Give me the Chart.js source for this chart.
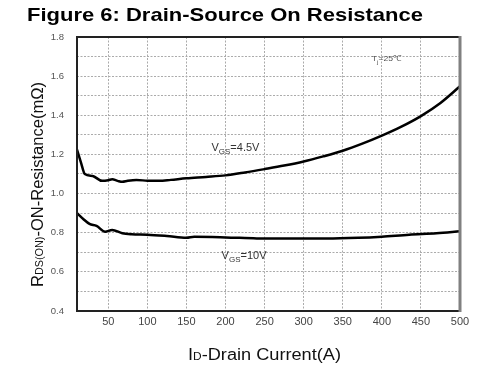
<!DOCTYPE html>
<html>
<head>
<meta charset="utf-8">
<script src="https://cdn.jsdelivr.net/npm/chart.js@4"></script>
<style>
  html, body { margin: 0; padding: 0; background: #fff; }
  #wrap { width: 500px; height: 375px; }
</style>
</head>
<body>
<div id="wrap"><canvas id="rdsChart" width="500" height="375"></canvas></div>
<script>
// drain current (A) vs Rds(on) (mOhm)
const current45 = [10, 15, 20, 30, 42, 50, 55, 62, 68, 75, 86, 100, 115, 130, 150, 175, 200, 225, 250, 275, 300, 325, 350, 375, 400, 425, 450, 475, 500];
const rds45 = [1.225, 1.16, 1.10, 1.09, 1.065, 1.068, 1.073, 1.065, 1.06, 1.065, 1.069, 1.066, 1.065, 1.07, 1.078, 1.085, 1.093, 1.108, 1.125, 1.143, 1.164, 1.19, 1.219, 1.255, 1.296, 1.342, 1.396, 1.463, 1.548];

const current10 = [10, 18, 26, 35, 46, 55, 68, 80, 100, 125, 150, 160, 200, 240, 280, 330, 370, 400, 435, 470, 500];
const rds10 = [0.90, 0.87, 0.845, 0.835, 0.805, 0.814, 0.797, 0.792, 0.79, 0.783, 0.774, 0.779, 0.776, 0.771, 0.77, 0.77, 0.774, 0.78, 0.79, 0.797, 0.807];

const xTicks = [50, 100, 150, 200, 250, 300, 350, 400, 450, 500];
const yTicks = [0.4, 0.5, 0.6, 0.7, 0.8, 0.9, 1.0, 1.1, 1.2, 1.3, 1.4, 1.5, 1.6, 1.7, 1.8];

const FONT = "'Liberation Sans', Arial, sans-serif";

function f(size, bold) {
    return (bold ? 'bold ' : '') + size + 'px ' + FONT;
}

function runsWidth(ctx, runs) {
    let w = 0;
    runs.forEach(r => { ctx.font = r.font; w += ctx.measureText(r.text).width; });
    return w;
}

// draws text pieces one after another, squeezed/stretched to a given width
function drawRuns(ctx, runs, target) {
    const w = runsWidth(ctx, runs);
    const sx = target ? target / w : 1;
    ctx.save();
    ctx.scale(sx, 1);
    let cx = 0;
    runs.forEach(r => {
        ctx.font = r.font;
        ctx.fillText(r.text, cx, r.dy || 0);
        cx += ctx.measureText(r.text).width;
    });
    ctx.restore();
}

const overlay = {
    id: 'overlay',
    afterDraw(chart) {
        const ctx = chart.ctx;
        const a = chart.chartArea;
        const xs = chart.scales.x;
        const ys = chart.scales.y;

        // frame
        ctx.save();
        ctx.lineWidth = 2;
        ctx.strokeStyle = '#222';
        ctx.beginPath();
        ctx.moveTo(a.right, a.top);
        ctx.lineTo(a.left, a.top);
        ctx.lineTo(a.left, a.bottom);
        ctx.lineTo(a.right, a.bottom);
        ctx.stroke();
        ctx.lineWidth = 3;
        ctx.strokeStyle = '#808080';
        ctx.beginPath();
        ctx.moveTo(a.right, a.top - 1);
        ctx.lineTo(a.right, a.bottom + 1);
        ctx.stroke();
        ctx.restore();

        ctx.save();
        ctx.textBaseline = 'alphabetic';
        ctx.textAlign = 'left';

        // title
        ctx.fillStyle = '#000';
        ctx.save();
        ctx.translate(27, 21);
        drawRuns(ctx, [{ text: 'Figure 6: Drain-Source On Resistance', font: f(19, true) }], 396);
        ctx.restore();

        // x title
        ctx.fillStyle = '#111';
        ctx.save();
        ctx.translate(188, 360);
        drawRuns(ctx, [
            { text: 'I', font: f(16) },
            { text: 'D', font: f(10.5) },
            { text: '-Drain Current(A)', font: f(16) }
        ], 153);
        ctx.restore();

        // y title
        ctx.save();
        ctx.translate(43, 184.5);
        ctx.rotate(-Math.PI / 2);
        ctx.translate(-102.5, 0);
        drawRuns(ctx, [
            { text: 'R', font: f(16) },
            { text: 'DS(ON)', font: f(10.5) },
            { text: '-ON-Resistance(m\u03A9)', font: f(16) }
        ], 205);
        ctx.restore();

        // curve labels
        ctx.fillStyle = '#333';
        ctx.save();
        ctx.translate(xs.getPixelForValue(182), ys.getPixelForValue(1.22));
        drawRuns(ctx, [
            { text: 'V', font: f(11) },
            { text: 'GS', font: f(8), dy: 3 },
            { text: '=4.5V', font: f(11) }
        ]);
        ctx.restore();

        ctx.save();
        ctx.translate(xs.getPixelForValue(195), ys.getPixelForValue(0.668));
        drawRuns(ctx, [
            { text: 'V', font: f(11) },
            { text: 'GS', font: f(8), dy: 3 },
            { text: '=10V', font: f(11) }
        ]);
        ctx.restore();

        ctx.fillStyle = '#555';
        ctx.save();
        ctx.translate(xs.getPixelForValue(387), ys.getPixelForValue(1.675));
        drawRuns(ctx, [
            { text: 'T', font: f(8) },
            { text: 'j', font: f(6), dy: 3 },
            { text: '=25\u2103', font: f(8) }
        ], 30);
        ctx.restore();

        ctx.restore();
    }
};

const ctx = document.getElementById('rdsChart').getContext('2d');

new Chart(ctx, {
    type: 'line',
    data: {
        datasets: [{
            label: 'VGS=4.5V',
            data: current45.map((x, i) => ({ x: x, y: rds45[i] })),
            borderColor: '#000',
            borderWidth: 2.5,
            pointRadius: 0,
            cubicInterpolationMode: 'monotone',
            fill: false
        }, {
            label: 'VGS=10V',
            data: current10.map((x, i) => ({ x: x, y: rds10[i] })),
            borderColor: '#000',
            borderWidth: 2.5,
            pointRadius: 0,
            cubicInterpolationMode: 'monotone',
            fill: false
        }]
    },
    options: {
        responsive: false,
        animation: false,
        layout: {
            padding: { left: 0, top: 37, right: 40, bottom: 0 }
        },
        plugins: {
            legend: { display: false },
            title: { display: false },
            tooltip: { enabled: false }
        },
        scales: {
            x: {
                type: 'linear',
                min: 10,
                max: 500,
                afterBuildTicks: axis => { axis.ticks = xTicks.map(v => ({ value: v })); },
                afterFit: axis => { axis.height = 64; },
                grid: { color: '#ababab', lineWidth: 1, drawTicks: false },
                border: { display: false, dash: [2, 1.5] },
                ticks: {
                    color: '#444',
                    padding: 4,
                    maxRotation: 0,
                    font: { family: FONT, size: 11 }
                }
            },
            y: {
                min: 0.4,
                max: 1.8,
                afterBuildTicks: axis => { axis.ticks = yTicks.map(v => ({ value: v })); },
                afterFit: axis => { axis.width = 77; },
                grid: { color: '#ababab', lineWidth: 1, drawTicks: false },
                border: { display: false, dash: [2, 1.5] },
                ticks: {
                    color: '#555',
                    padding: 13,
                    font: { family: FONT, size: 9.5 },
                    callback: v => (Math.round(v * 10) % 2 === 0 ? v.toFixed(1) : '')
                }
            }
        }
    },
    plugins: [overlay]
});
</script>
</body>
</html>
